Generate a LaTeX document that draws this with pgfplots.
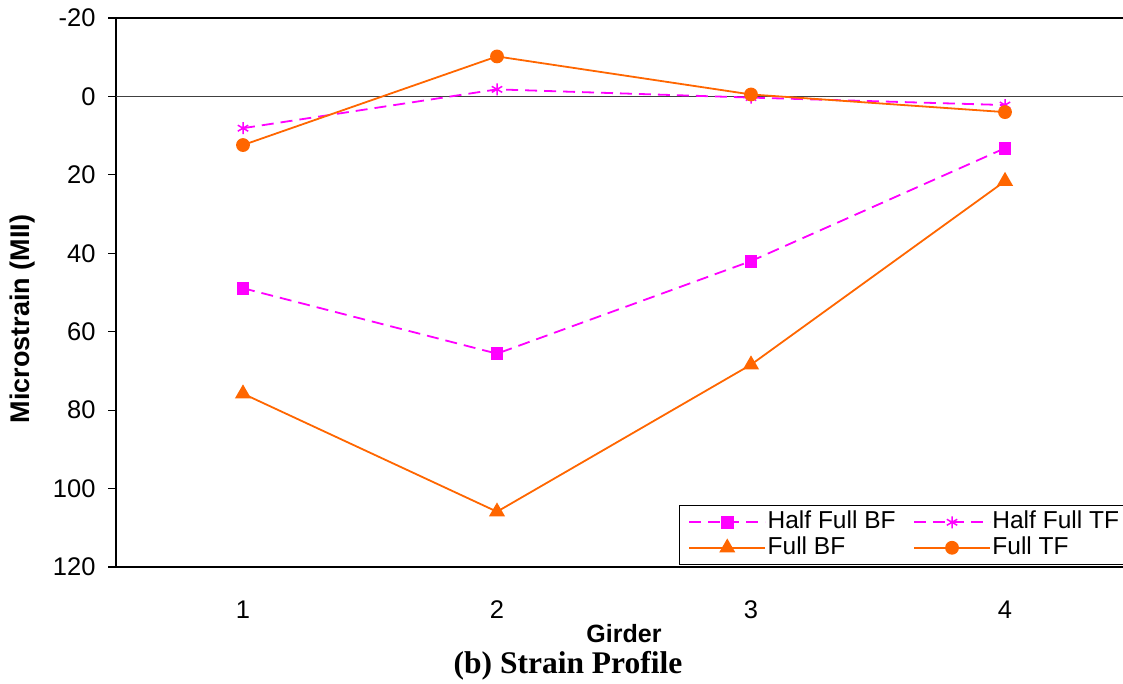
\documentclass[border=0pt]{standalone}
\usepackage{pgfplots}
\pgfplotsset{compat=1.18}
\usepackage{fontspec}
\setmainfont{Liberation Sans}
\newfontfamily\timesfont{Liberation Serif}
\definecolor{mag}{RGB}{255,0,255}
\definecolor{org}{RGB}{255,102,0}
\definecolor{axgray}{RGB}{64,64,64}
\begin{document}
\begin{tikzpicture}[x=1pt,y=1pt]
\useasboundingbox (0,0) rectangle (1123,684);
\clip (0,0) rectangle (1123,684);
\begin{axis}[
  scale only axis, width=1016pt, height=549pt,
  at={(116pt,117pt)}, anchor=south west,
  xmin=0.5, xmax=4.5, ymin=-20, ymax=120, y dir=reverse,
  axis line style={black, line width=1.5pt},
  xtick={1,2,3,4}, xticklabels={1,2,3,4},
  x tick style={draw=none},
  xticklabel style={yshift=-22pt},
  ytick={-20,0,20,40,60,80,100,120},
  yticklabels={-20,0,20,40,60,80,100,120},
  ytick pos=left, tick align=outside,
  major tick length=8pt,
  y tick style={black, line width=1.2pt},
  yticklabel style={xshift=-9pt},
  tick label style={font=\fontsize{25.5}{28}\selectfont},
  extra y ticks={0}, extra y tick labels={},
  extra y tick style={grid=major, major grid style={axgray, line width=1.5pt}},
  clip=false,
  legend columns=2,
  legend style={at={(rel axis cs:0.554,0.0036)}, anchor=south west,
    draw=black, line width=1pt, font=\fontsize{24.5}{26}\selectfont,
    inner ysep=4pt, inner xsep=9pt, row sep=0pt,
    nodes={inner sep=1.5pt, text height=17.5pt, text depth=5pt},
    /tikz/every even column/.append style={column sep=16pt}},
  legend cell align=left,
  legend image code/.code={\draw[mark repeat=2,mark phase=2] plot coordinates {(0pt,0pt) (38pt,0pt) (76pt,0pt)};},
]
\addplot[mag, line width=1.8pt, dash pattern=on 12pt off 7pt, mark=square*, mark size=5.5pt, mark options={solid}]
  coordinates {(1,48.9) (2,65.6) (3,42.0) (4,13.2)};
\addlegendentry{Half Full BF}
\addplot[mag, line width=1.8pt, dash pattern=on 12pt off 7pt, mark=asterisk, mark size=6pt, mark options={solid, line width=1.5pt}]
  coordinates {(1,8.1) (2,-1.8) (3,0.3) (4,2.2)};
\addlegendentry{Half Full TF\hspace*{14pt}}
\addplot[org, line width=1.8pt, mark=triangle*, mark size=7.5pt]
  coordinates {(1,75.8) (2,105.9) (3,68.4) (4,21.6)};
\addlegendentry{Full BF}
\addplot[org, line width=1.8pt, mark=*, mark size=6pt]
  coordinates {(1,12.4) (2,-10.2) (3,-0.5) (4,4.0)};
\addlegendentry{Full TF}
\end{axis}
\node[rotate=90, font=\bfseries\fontsize{27}{30}\selectfont] at (23,365) {Microstrain (MII)};
\node[font=\bfseries\fontsize{25}{28}\selectfont] at (624,50) {Girder};
\node[font=\timesfont\bfseries\fontsize{31.5}{34}\selectfont] at (568,18) {(b) Strain Profile};
\end{tikzpicture}
\end{document}
